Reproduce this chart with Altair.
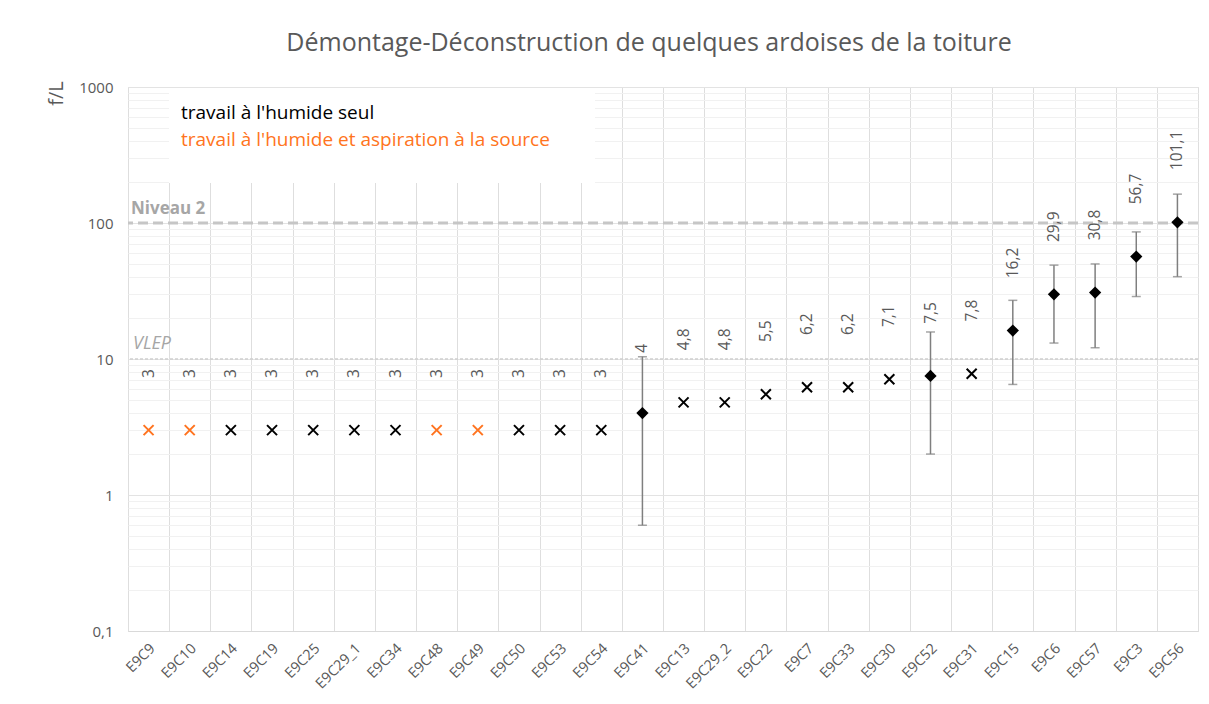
import altair as alt
import pandas as pd

TITLE = "Démontage-Déconstruction de quelques ardoises de la toiture"
samples = ["E9C9", "E9C10", "E9C14", "E9C19", "E9C25", "E9C29_1", "E9C34", "E9C48",
           "E9C49", "E9C50", "E9C53", "E9C54", "E9C41", "E9C13", "E9C29_2", "E9C22",
           "E9C7", "E9C33", "E9C30", "E9C52", "E9C31", "E9C15", "E9C6", "E9C57",
           "E9C3", "E9C56"]
values = [3, 3, 3, 3, 3, 3, 3, 3, 3, 3, 3, 3, 4, 4.8, 4.8, 5.5, 6.2, 6.2, 7.1, 7.5,
          7.8, 16.2, 29.9, 30.8, 56.7, 101.1]
SEUL = "travail à l'humide seul"
ASP = "travail à l'humide et aspiration à la source"
methods = [ASP, ASP, SEUL, SEUL, SEUL, SEUL, SEUL, ASP, ASP, SEUL, SEUL, SEUL, SEUL,
           SEUL, SEUL, SEUL, SEUL, SEUL, SEUL, SEUL, SEUL, SEUL, SEUL, SEUL, SEUL, SEUL]
err_low = [None, None, None, None, None, None, None, None, None, None, None, None,
           0.6, None, None, None, None, None, None, 2.0, None, 6.5, 13.1, 12.1, 28.8, 40.3]
err_high = [None, None, None, None, None, None, None, None, None, None, None, None,
            10.4, None, None, None, None, None, None, 15.8, None, 27.0, 49.0, 50.0, 86.0, 163.0]
legend_items = [SEUL, ASP]
legend_colors = ["#000000", "#FF7420"]
ref_values = [100, 10]
ref_names = ["Niveau 2", "VLEP"]
y_tick_values = [0.1, 1, 10, 100, 1000]
y_minor = [round(m * 10 ** e, 6) for e in range(-1, 3) for m in range(1, 10)] + [1000]

df = pd.DataFrame({"sample": samples, "v": values, "method": methods,
                   "lo": err_low, "hi": err_high})
df["label"] = [str(v).replace(".", ",") for v in values]
df["has_err"] = df["lo"].notna()

FONT = "Open Sans"
GREY = "#595959"
W, H = 1070, 544

decade_test = " || ".join(f"datum.value == {v}" for v in y_tick_values)
label_expr = ("datum.value == 0.1 ? '0,1' : (" + decade_test + ") ? format(datum.value, 'd') : ''")

xscale = alt.Scale(domain=samples, paddingInner=0, paddingOuter=0)
xaxis = alt.Axis(title=None, labelAngle=-45, labelAlign="right", labelBaseline="middle",
                 labelFont=FONT, labelFontSize=14.5, labelOffset=4,
                 labelColor=GREY, ticks=False, domain=True, domainColor="#d9d9d9",
                 grid=True, gridColor="#dedede", tickBand="extent", labelPadding=15)
yscale = alt.Scale(type="log", domain=[0.1, 1000], nice=False)
yaxis = alt.Axis(title="f/L", values=y_minor, labelExpr=label_expr, ticks=False,
                 tickSize=0, domain=False, labelPadding=15, labelFont=FONT,
                 labelFontSize=15, labelColor=GREY, labelOverlap=False, labelFlush=False,
                 gridColor={"condition": {"test": decade_test, "value": "#e3e3e3"},
                            "value": "#f1f1f1"},
                 titleFont=FONT, titleFontSize=20, titleColor=GREY, titleFontWeight="normal",
                 titleAngle=270, titleX=-72, titleY=6, titleAlign="center",
                 titleBaseline="middle")


def X():
    return alt.X("sample:N", scale=xscale, axis=xaxis, sort=samples)


def Y(field):
    return alt.Y(field, scale=yscale, axis=yaxis)


base = alt.Chart(df)
one = pd.DataFrame({"title": [TITLE]})

# chart title (placed as text above the plot area)
title_mark = alt.Chart(one).mark_text(
    align="center", baseline="alphabetic", font=FONT, fontSize=25, color=GREY).encode(
    text="title:N", x=alt.value(521), y=alt.value(-36))

# white legend box
leg_box = alt.Chart(one).mark_rect(fill="white").encode(
    x=alt.value(41), x2=alt.value(467), y=alt.value(1), y2=alt.value(96))

leg_df = pd.DataFrame({"item": legend_items, "col": legend_colors})
leg_text1 = alt.Chart(leg_df).transform_filter(alt.datum.item == SEUL).mark_text(
    align="left", baseline="middle", font=FONT, fontSize=19, color=legend_colors[0]).encode(
    text="item:N", x=alt.value(53), y=alt.value(26))
leg_text2 = alt.Chart(leg_df).transform_filter(alt.datum.item == ASP).mark_text(
    align="left", baseline="middle", font=FONT, fontSize=19, color=legend_colors[1]).encode(
    text="item:N", x=alt.value(53), y=alt.value(53))

ref_df = pd.DataFrame({"y": ref_values, "name": ref_names})
ref_n2 = alt.Chart(ref_df).transform_filter("datum.y == 100").mark_rule(
    color="#c6c6c6", strokeWidth=3, strokeDash=[10, 5]).encode(y=Y("y:Q"))
ref_vlep = alt.Chart(ref_df).transform_filter("datum.y == 10").mark_rule(
    color="#cfcfcf", strokeWidth=1.5, strokeDash=[3, 2]).encode(y=Y("y:Q"))
txt_n2 = alt.Chart(ref_df).transform_filter("datum.y == 100").mark_text(
    align="left", baseline="middle", dy=-14, font=FONT, fontSize=17,
    fontWeight="bold", color="#a6a6a6").encode(
    x=alt.value(3), y=Y("y:Q"), text="name:N")
txt_vlep = alt.Chart(ref_df).transform_filter("datum.y == 10").mark_text(
    align="left", baseline="middle", dy=-15, font=FONT, fontSize=18,
    fontStyle="italic", color="#a6a6a6").encode(
    x=alt.value(5), y=Y("y:Q"), text="name:N")

err = base.transform_filter("datum.has_err").mark_rule(color="#7f7f7f", strokeWidth=1.5).encode(
    x=X(), y=Y("lo:Q"), y2="hi:Q")
cap_lo = base.transform_filter("datum.has_err").mark_tick(
    orient="horizontal", size=9, thickness=1.5, color="#7f7f7f").encode(
    x=X(), y=Y("lo:Q"))
cap_hi = base.transform_filter("datum.has_err").mark_tick(
    orient="horizontal", size=9, thickness=1.5, color="#7f7f7f").encode(
    x=X(), y=Y("hi:Q"))

crosses = base.transform_filter("!datum.has_err").mark_point(
    shape="M-1,-1L1,1M1,-1L-1,1", size=100, strokeWidth=2, filled=False, opacity=1).encode(
    x=X(), y=Y("v:Q"),
    color=alt.Color("method:N", scale=alt.Scale(domain=legend_items, range=legend_colors),
                    legend=None))
diamonds = base.transform_filter("datum.has_err").mark_point(
    shape="diamond", size=150, filled=True, color="#000000", opacity=1).encode(
    x=X(), y=Y("v:Q"))

labels = base.transform_calculate(
    ly="datum.has_err ? max(datum.v * 2.42, datum.hi * 1.07) : datum.v * 2.42"
).mark_text(
    angle=270, align="left", baseline="middle", font=FONT, fontSize=15.5, color=GREY).encode(
    x=X(), y=Y("ly:Q"), text="label:N")

chart = alt.layer(
    leg_box, ref_n2, ref_vlep, txt_n2, txt_vlep, err, cap_lo, cap_hi,
    crosses, diamonds, labels, leg_text1, leg_text2, title_mark
).properties(
    width=W, height=H,
    autosize=alt.AutoSizeParams(type="none"),
    padding={"left": 120, "top": 79, "right": 3, "bottom": 65},
).configure_view(stroke=None).configure(font=FONT)

chart.save("out.html", embed_options={"renderer": "svg", "actions": False})
